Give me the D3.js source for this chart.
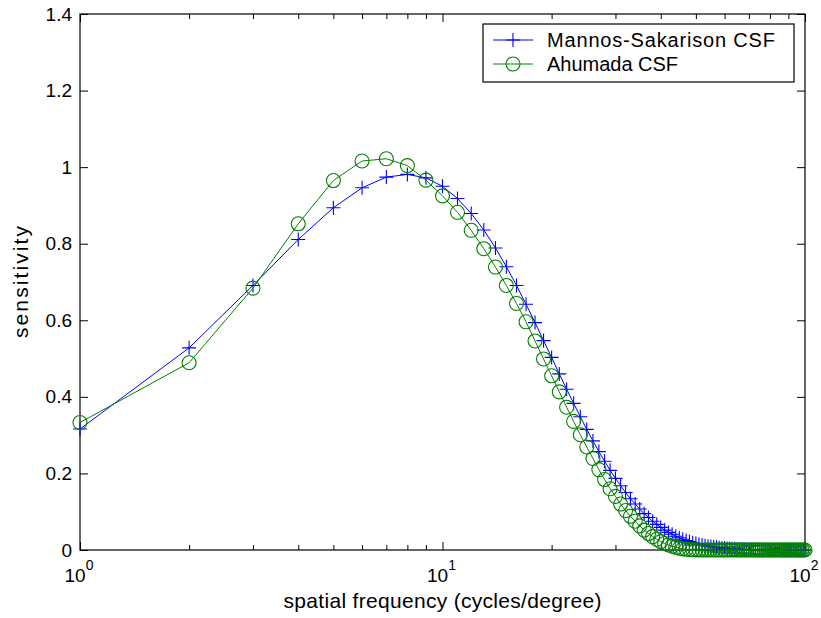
<!DOCTYPE html>
<html>
<head>
<meta charset="utf-8">
<script src="https://cdn.jsdelivr.net/npm/d3@7"></script>
<style>
  body { margin: 0; background: #fff; }
  svg { font-family: "Liberation Sans", Arial, Helvetica, sans-serif; }
</style>
</head>
<body>
<svg id="chart" width="821" height="618"></svg>
<script>
// spatial frequency (cycles/degree)
const frequencies = [
  1, 2, 3, 4, 5, 6, 7, 8, 9, 10,
  11, 12, 13, 14, 15, 16, 17, 18, 19, 20,
  21, 22, 23, 24, 25, 26, 27, 28, 29, 30,
  31, 32, 33, 34, 35, 36, 37, 38, 39, 40,
  41, 42, 43, 44, 45, 46, 47, 48, 49, 50,
  51, 52, 53, 54, 55, 56, 57, 58, 59, 60,
  61, 62, 63, 64, 65, 66, 67, 68, 69, 70,
  71, 72, 73, 74, 75, 76, 77, 78, 79, 80,
  81, 82, 83, 84, 85, 86, 87, 88, 89, 90,
  91, 92, 93, 94, 95, 96, 97, 98, 99, 100
];

const mannosValues = [
  0.316, 0.528, 0.691, 0.811, 0.894, 0.946, 0.974, 0.981, 0.972, 0.950,
  0.918, 0.879, 0.836, 0.789, 0.740, 0.691, 0.642, 0.594, 0.547, 0.503,
  0.460, 0.420, 0.383, 0.348, 0.315, 0.285, 0.257, 0.232, 0.208, 0.187,
  0.168, 0.150, 0.134, 0.120, 0.107, 0.095, 0.085, 0.075, 0.067, 0.059,
  0.052, 0.046, 0.041, 0.036, 0.032, 0.028, 0.025, 0.022, 0.019, 0.017,
  0.015, 0.013, 0.011, 0.010, 0.009, 0.008, 0.007, 0.006, 0.005, 0.005,
  0.004, 0.004, 0.003, 0.003, 0.002, 0.002, 0.002, 0.002, 0.001, 0.001,
  0.001, 0.001, 0.001, 0.001, 0.001, 0, 0, 0, 0, 0,
  0, 0, 0, 0, 0, 0, 0, 0, 0, 0,
  0, 0, 0, 0, 0, 0, 0, 0, 0, 0
];

const ahumadaValues = [
  0.333, 0.489, 0.684, 0.852, 0.965, 1.016, 1.022, 1.004, 0.966, 0.925,
  0.882, 0.835, 0.787, 0.739, 0.691, 0.644, 0.596, 0.546, 0.499, 0.455,
  0.413, 0.373, 0.336, 0.301, 0.269, 0.239, 0.210, 0.184, 0.160, 0.140,
  0.120, 0.103, 0.088, 0.075, 0.063, 0.052, 0.043, 0.035, 0.028, 0.022,
  0.017, 0.013, 0.010, 0.007, 0.005, 0.003, 0.002, 0.001, 0.001, 0,
  0, 0, 0, 0, 0, 0, 0, 0, 0, 0,
  0, 0, 0, 0, 0, 0, 0, 0, 0, 0,
  0, 0, 0, 0, 0, 0, 0, 0, 0, 0,
  0, 0, 0, 0, 0, 0, 0, 0, 0, 0,
  0, 0, 0, 0, 0, 0, 0, 0, 0, 0
];

const xTicks = [1, 2, 3, 4, 5, 6, 7, 8, 9, 10, 20, 30, 40, 50, 60, 70, 80, 90, 100];
const xMajor = [1, 10, 100];
const yTicks = [0, 0.2, 0.4, 0.6, 0.8, 1, 1.2, 1.4];
const seriesNames = ["Mannos-Sakarison CSF", "Ahumada CSF"];

const box = { left: 80, right: 805, top: 14, bottom: 550 };
const svg = d3.select("#chart");

const x = d3.scaleLog().domain([1, 100]).range([box.left, box.right]);
const y = d3.scaleLinear().domain([0, 1.4]).range([box.bottom, box.top]);

const series = [
  { name: seriesNames[0], values: mannosValues, color: "#0000ff", marker: "plus", legendLen: 228 },
  { name: seriesNames[1], values: ahumadaValues, color: "#008000", marker: "circle", legendLen: 131 }
];

// axes, ticks point inward like matlab
const bottomAxis = svg.append("g")
  .attr("transform", `translate(0,${box.bottom})`)
  .call(d3.axisBottom(x).tickValues(xTicks).tickSize(-8).tickFormat(""));
const topAxis = svg.append("g")
  .attr("transform", `translate(0,${box.top})`)
  .call(d3.axisTop(x).tickValues(xTicks).tickSize(-8).tickFormat(""));
[bottomAxis, topAxis].forEach(g => {
  g.selectAll(".tick line")
    .attr("y2", function (d) {
      const len = xMajor.includes(d) ? 8 : 5;
      return g === bottomAxis ? -len : len;
    });
});

const leftAxis = svg.append("g")
  .attr("transform", `translate(${box.left},0)`)
  .call(d3.axisLeft(y).tickValues(yTicks).tickSize(-8).tickPadding(8).tickFormat(d3.format("~g")));
svg.append("g")
  .attr("transform", `translate(${box.right},0)`)
  .call(d3.axisRight(y).tickValues(yTicks).tickSize(-8).tickFormat(""));

svg.selectAll(".domain").remove();
svg.selectAll(".tick line").attr("stroke", "#000");
leftAxis.selectAll("text").attr("font-size", 19).attr("fill", "#000");

svg.append("rect")
  .attr("x", box.left).attr("y", box.top)
  .attr("width", box.right - box.left).attr("height", box.bottom - box.top)
  .attr("fill", "none").attr("stroke", "#000").attr("stroke-width", 1.2);

// 10^n labels
const xLabels = svg.append("g").selectAll("text")
  .data(xMajor)
  .join("text")
  .attr("x", d => x(d) - 1)
  .attr("y", box.bottom + 32)
  .attr("text-anchor", "middle")
  .attr("font-size", 19);
xLabels.append("tspan").text("10");
xLabels.append("tspan")
  .attr("dy", -12).attr("font-size", 14)
  .text(d => Math.round(Math.log10(d)));

// series
const line = d3.line()
  .x((d, i) => x(frequencies[i]))
  .y(d => y(d));

function drawMarker(g, type, color) {
  if (type === "plus") {
    g.append("path")
      .attr("d", "M-7,0H7M0,-7V7")
      .attr("stroke", color).attr("stroke-width", 1.1).attr("fill", "none");
  } else {
    g.append("circle")
      .attr("r", 7)
      .attr("stroke", color).attr("stroke-width", 1.1).attr("fill", "none");
  }
}

series.forEach(s => {
  const g = svg.append("g");
  g.append("path")
    .datum(s.values)
    .attr("d", line)
    .attr("fill", "none")
    .attr("stroke", s.color)
    .attr("stroke-width", 1);
  g.selectAll("g.mk")
    .data(s.values)
    .join("g")
    .attr("class", "mk")
    .attr("transform", (d, i) => `translate(${x(frequencies[i])},${y(d)})`)
    .each(function () { drawMarker(d3.select(this), s.marker, s.color); });
});

// legend
const legend = svg.append("g");
legend.append("rect")
  .attr("x", 483).attr("y", 24).attr("width", 311).attr("height", 58)
  .attr("fill", "#fff").attr("stroke", "#000").attr("stroke-width", 1.2);
series.forEach((s, i) => {
  const ly = 40 + i * 24;
  legend.append("line")
    .attr("x1", 493).attr("x2", 533).attr("y1", ly).attr("y2", ly)
    .attr("stroke", s.color).attr("stroke-width", 1);
  const mg = legend.append("g").attr("transform", `translate(513,${ly})`);
  drawMarker(mg, s.marker, s.color);
  legend.append("text")
    .attr("x", 547).attr("y", ly + 7)
    .attr("font-size", 20)
    .attr("textLength", s.legendLen)
    .attr("lengthAdjust", "spacing")
    .text(s.name);
});

// axis titles
svg.append("text")
  .attr("x", (box.left + box.right) / 2)
  .attr("y", 608)
  .attr("text-anchor", "middle")
  .attr("font-size", 21)
  .attr("textLength", 318)
  .attr("lengthAdjust", "spacing")
  .text("spatial frequency (cycles/degree)");
svg.append("text")
  .attr("transform", `translate(28,${(box.top + box.bottom) / 2}) rotate(-90)`)
  .attr("text-anchor", "middle")
  .attr("font-size", 21)
  .attr("textLength", 112)
  .attr("lengthAdjust", "spacing")
  .text("sensitivity");
</script>
</body>
</html>
